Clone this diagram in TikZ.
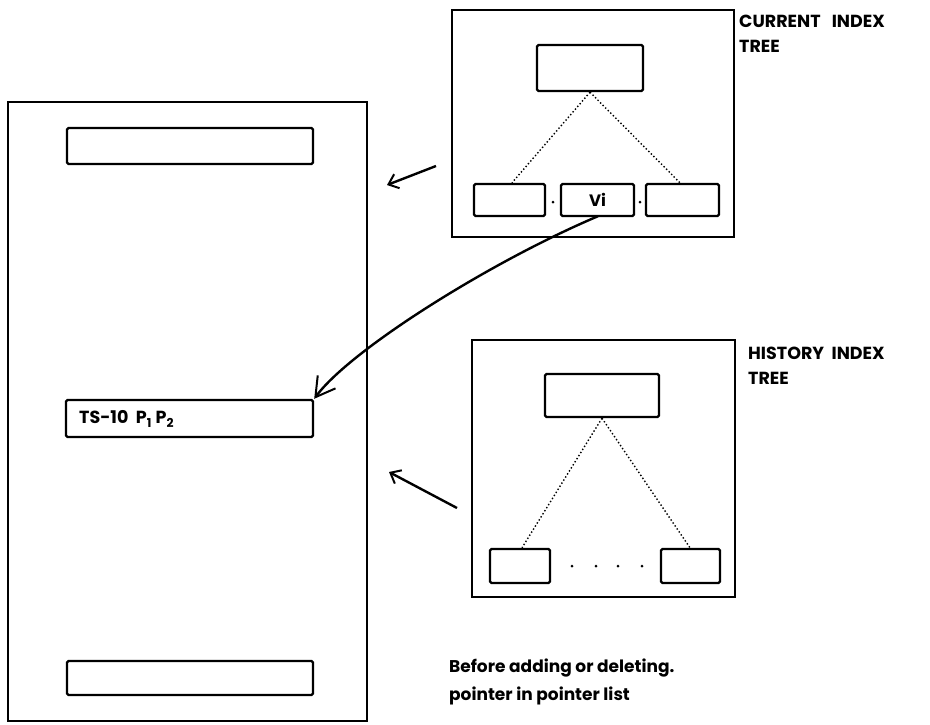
\documentclass[tikz,border=0pt]{standalone}
\usepackage{fontspec}
\setmainfont{Poppins}
\usetikzlibrary{arrows.meta}
\begin{document}
\begin{tikzpicture}[x=1pt,y=-1pt,
  outer/.style={draw, line width=2pt, inner sep=0pt, rectangle},
  inner/.style={draw, line width=2.4pt, inner sep=0pt, rectangle, rounded corners=1.5pt},
  tree/.style={line width=1.4pt, dash pattern=on 1.4pt off 2.2pt},
  pnt/.style={-{Straight Barb[length=9pt,width=15pt,line width=2pt]}, line width=2.4pt},
  bigpnt/.style={-{Straight Barb[length=19pt,width=22pt,line width=2pt]}, line width=2.4pt},
  lbl/.style={font=\fontsize{17.5}{25}\selectfont\bfseries, inner sep=0pt, align=left},
  dotmark/.style={circle, fill, inner sep=0pt, minimum size=3pt}
]
\useasboundingbox (0,0) rectangle (930,724);

% big pointer-list box
\node[outer, minimum width=359pt, minimum height=619pt] (big) at (187.5,411.5) {};
\node[inner, minimum width=246pt, minimum height=36pt] (top) at (190,146) {};
\node[inner, minimum width=247pt, minimum height=37pt] (ts) at (189.5,418.5) {};
\node[lbl, anchor=west] (tstext) at (79,419) {TS-10\ \ P\textsubscript{\raisebox{-2pt}{1}}\ P\textsubscript{\raisebox{-2pt}{2}}};
\node[inner, minimum width=246pt, minimum height=34pt] (bot) at (190,678) {};

% current index tree
\node[outer, minimum width=282pt, minimum height=227pt] (cur) at (593,123.5) {};
\node[inner, minimum width=106pt, minimum height=46pt] (ctop) at (590,68) {};
\node[inner, minimum width=71pt, minimum height=32pt] (cl) at (509.5,200) {};
\node[inner, minimum width=73pt, minimum height=32pt, font=\fontsize{16.5}{19}\selectfont\bfseries] (cv) at (597.5,200) {Vi};
\node[inner, minimum width=73pt, minimum height=32pt] (cr) at (682.5,200) {};
\node[dotmark] (cd1) at (553,202) {};
\node[dotmark] (cd2) at (640,202) {};
\draw[tree] (ctop.south) -- ([xshift=2.5pt]cl.north);
\draw[tree] (ctop.south) -- ([xshift=-2.5pt]cr.north);
\node[lbl, anchor=north west] (curlbl) at (739,15) {CURRENT\ \ \ INDEX\\TREE};

% history index tree
\node[outer, minimum width=263pt, minimum height=257pt] (hist) at (603.5,468.5) {};
\node[inner, minimum width=114pt, minimum height=43pt] (htop) at (602,395.5) {};
\node[inner, minimum width=60pt, minimum height=34pt] (hl) at (520,566) {};
\node[inner, minimum width=59pt, minimum height=34pt] (hr) at (690.5,566) {};
\foreach \x [count=\i] in {572,596,618,642} \node[dotmark] (hd\i) at (\x,566) {};
\draw[tree] (htop.south) -- ([xshift=2pt]hl.north);
\draw[tree] (htop.south) -- ([xshift=-0.5pt]hr.north);
\node[lbl, anchor=north west] (histlbl) at (748,347) {HISTORY\ \ INDEX\\TREE};

% arrows
\coordinate (a1s) at (436,166);
\coordinate (a1e) at (387,185);
\draw[pnt] (a1s) -- (a1e);
\coordinate (a2s) at (457,508);
\coordinate (a2e) at (389,472);
\draw[pnt] (a2s) -- (a2e);
\draw[bigpnt] ([xshift=0.5pt,yshift=1pt]cv.south) .. controls (490,262) and (350,350) .. (ts.north east);

% caption
\node[lbl, anchor=north west, font=\fontsize{17}{28}\selectfont\bfseries] (cap) at (449,659) {Before adding or deleting.\\pointer in pointer list};
\end{tikzpicture}
\end{document}
